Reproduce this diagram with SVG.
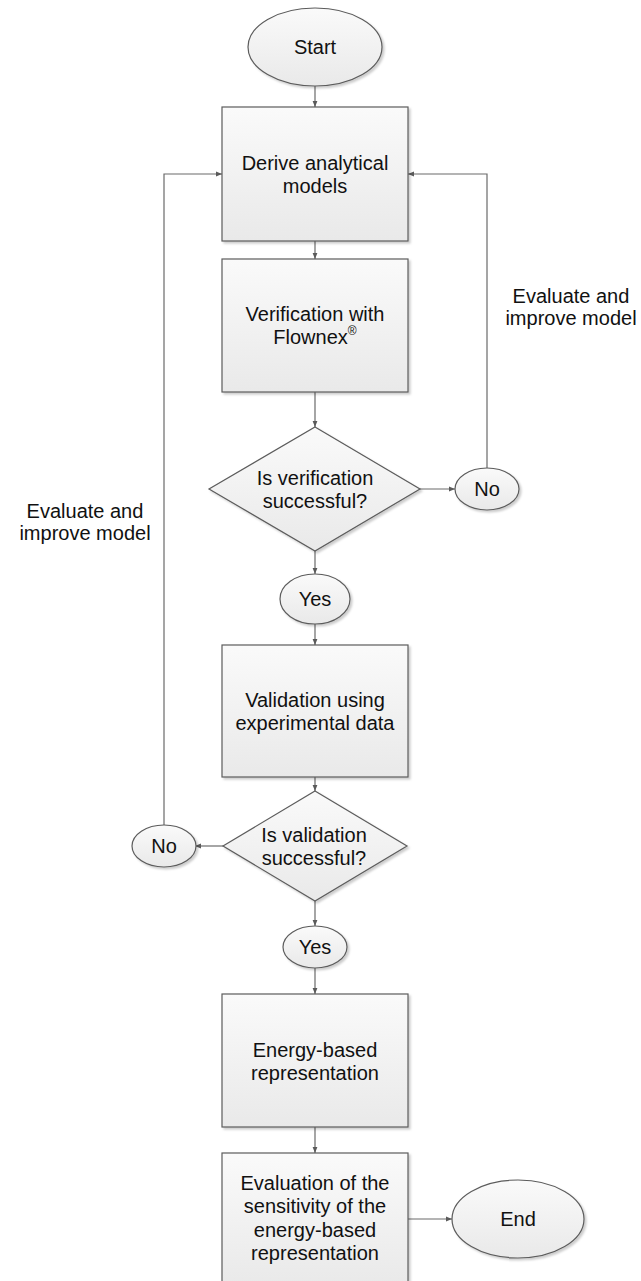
<svg xmlns="http://www.w3.org/2000/svg" width="641" height="1281" viewBox="0 0 641 1281">
  <defs>
    <linearGradient id="fillGrad" x1="0" y1="0" x2="0" y2="1">
      <stop offset="0" stop-color="#fafafa"/>
      <stop offset="1" stop-color="#e9e9e9"/>
    </linearGradient>
    <filter id="shadow" x="-10%" y="-10%" width="125%" height="125%">
      <feDropShadow dx="2" dy="2" stdDeviation="1.2" flood-color="#000" flood-opacity="0.2"/>
    </filter>
    <marker id="arrow" viewBox="0 0 6 6" refX="6" refY="3" markerWidth="6" markerHeight="6" markerUnits="userSpaceOnUse" orient="auto">
      <path d="M0,0.6 L6,3 L0,5.4 Z" fill="#5a5a5a"/>
    </marker>
    <style>
      .shape { fill: url(#fillGrad); stroke: #5c5c5c; stroke-width: 1.2; filter: url(#shadow); }
      .label { font-family: "Liberation Sans", Arial, sans-serif; font-size: 20px; fill: #111; text-anchor: middle; }
      .note { font-family: "Liberation Sans", Arial, sans-serif; font-size: 20px; fill: #111; text-anchor: middle; }
      .conn { fill: none; stroke: #6a6a6a; stroke-width: 1.2; marker-end: url(#arrow); }
    </style>
  </defs>

  <!-- connectors -->
  <g id="connectors">
    <path class="conn" d="M315,86 V107"/>
    <path class="conn" d="M315,241 V259"/>
    <path class="conn" d="M315,392 V427"/>
    <path class="conn" d="M420,489 H455"/>
    <path class="conn" d="M487,468 V174 H408"/>
    <path class="conn" d="M315,551 V574"/>
    <path class="conn" d="M315,624 V645"/>
    <path class="conn" d="M315,777 V791"/>
    <path class="conn" d="M223,846 H195"/>
    <path class="conn" d="M164,825 V174 H222"/>
    <path class="conn" d="M315,901 V926"/>
    <path class="conn" d="M315,968 V994"/>
    <path class="conn" d="M315,1127 V1153"/>
    <path class="conn" d="M408,1219 H452"/>
  </g>

  <g id="start">
    <ellipse class="shape" cx="315" cy="47" rx="67" ry="39"/>
    <text class="label" x="315" y="54">Start</text>
  </g>

  <g id="derive">
    <rect class="shape" x="222" y="107" width="186" height="134"/>
    <text class="label" x="315" y="170">Derive analytical</text>
    <text class="label" x="315" y="193">models</text>
  </g>

  <g id="verification">
    <rect class="shape" x="222" y="259" width="186" height="133"/>
    <text class="label" x="315" y="321">Verification with</text>
    <text class="label" x="315" y="344">Flownex<tspan font-size="12" dy="-9">®</tspan></text>
  </g>

  <g id="verification-check">
    <polygon class="shape" points="315,427 420,489 315,551 209,489"/>
    <text class="label" x="315" y="485">Is verification</text>
    <text class="label" x="315" y="508">successful?</text>
  </g>

  <g id="verification-no">
    <ellipse class="shape" cx="487" cy="489" rx="32" ry="21"/>
    <text class="label" x="487" y="496">No</text>
  </g>

  <g id="note-right">
    <text class="note" x="571" y="303">Evaluate and</text>
    <text class="note" x="571" y="325">improve model</text>
  </g>

  <g id="verification-yes">
    <ellipse class="shape" cx="315" cy="599" rx="35" ry="25"/>
    <text class="label" x="315" y="606">Yes</text>
  </g>

  <g id="validation">
    <rect class="shape" x="222" y="645" width="186" height="132"/>
    <text class="label" x="315" y="707">Validation using</text>
    <text class="label" x="315" y="730">experimental data</text>
  </g>

  <g id="validation-check">
    <polygon class="shape" points="315,791 407,846 315,901 223,846"/>
    <text class="label" x="314" y="842">Is validation</text>
    <text class="label" x="314" y="865">successful?</text>
  </g>

  <g id="validation-no">
    <ellipse class="shape" cx="164" cy="846" rx="32" ry="21"/>
    <text class="label" x="164" y="853">No</text>
  </g>

  <g id="note-left">
    <text class="note" x="85" y="518">Evaluate and</text>
    <text class="note" x="85" y="540">improve model</text>
  </g>

  <g id="validation-yes">
    <ellipse class="shape" cx="315" cy="947" rx="32" ry="21"/>
    <text class="label" x="315" y="954">Yes</text>
  </g>

  <g id="energy">
    <rect class="shape" x="222" y="994" width="186" height="133"/>
    <text class="label" x="315" y="1057">Energy-based</text>
    <text class="label" x="315" y="1080">representation</text>
  </g>

  <g id="sensitivity">
    <rect class="shape" x="222" y="1153" width="186" height="133"/>
    <text class="label" x="315" y="1190">Evaluation of the</text>
    <text class="label" x="315" y="1213">sensitivity of the</text>
    <text class="label" x="315" y="1237">energy-based</text>
    <text class="label" x="315" y="1260">representation</text>
  </g>

  <g id="end">
    <ellipse class="shape" cx="518" cy="1219" rx="66" ry="39"/>
    <text class="label" x="518" y="1226">End</text>
  </g>
</svg>
